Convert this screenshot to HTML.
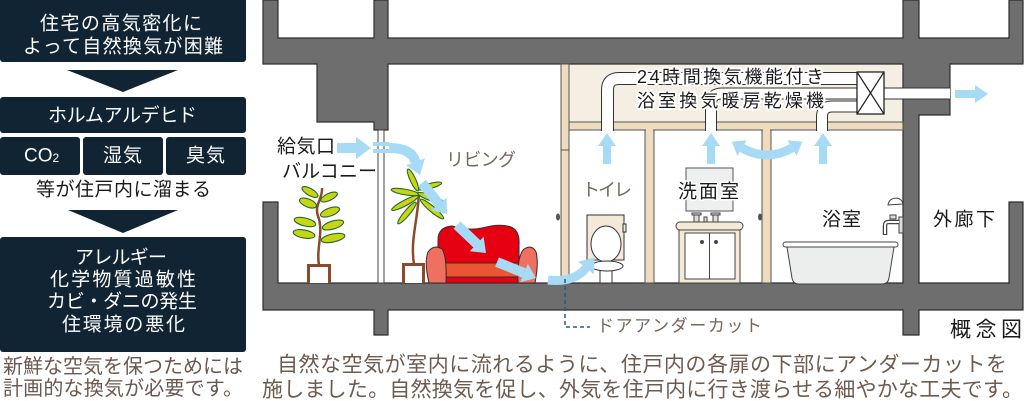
<!DOCTYPE html>
<html><head><meta charset="utf-8"><style>
html,body{margin:0;padding:0;background:#fff;}
svg{display:block;}
text{font-family:"Liberation Sans","Noto Sans CJK JP",sans-serif;}
</style></head><body>
<svg width="1024" height="401" viewBox="0 0 1024 401" xmlns="http://www.w3.org/2000/svg">
<!-- LEFT PANEL -->
<g fill="#102434">
<rect x="0" y="-4" width="246" height="66" rx="3"/>
<polygon points="67,70 178,70 123,92"/>
<rect x="0" y="97" width="246" height="36" rx="3"/>
<rect x="0" y="137" width="80" height="38" rx="3"/>
<rect x="83" y="137" width="80" height="38" rx="3"/>
<rect x="166" y="137" width="80" height="38" rx="3"/>
<polygon points="68,210 178,210 123,233"/>
<rect x="0" y="237" width="246" height="115" rx="3"/>
</g>
<g fill="#fff" font-size="19" dominant-baseline="central">
<text x="40" y="24" textLength="162" lengthAdjust="spacing">住宅の高気密化に</text>
<text x="23" y="47" textLength="200" lengthAdjust="spacing">よって自然換気が困難</text>
<text x="48" y="116" textLength="149" lengthAdjust="spacing">ホルムアルデヒド</text>
<text x="24" y="156">CO<tspan font-size="12" dy="2">2</tspan></text>
<text x="103" y="156" textLength="39" lengthAdjust="spacing">湿気</text>
<text x="186" y="156" textLength="39" lengthAdjust="spacing">臭気</text>
<text x="75" y="258" textLength="92" lengthAdjust="spacing">アレルギー</text>
<text x="50" y="280" textLength="146" lengthAdjust="spacing">化学物質過敏性</text>
<text x="47" y="302" textLength="150" lengthAdjust="spacing">カビ・ダニの発生</text>
<text x="62" y="325" textLength="123" lengthAdjust="spacing">住環境の悪化</text>
</g>
<text x="36" y="190" font-size="19" fill="#1a1a1a" dominant-baseline="central" textLength="175" lengthAdjust="spacing">等が住戸内に溜まる</text>
<g fill="#6a5950" font-size="20" dominant-baseline="central">
<text x="3" y="367" textLength="240" lengthAdjust="spacing">新鮮な空気を保つためには</text>
<text x="3" y="389" textLength="240" lengthAdjust="spacing">計画的な換気が必要です。</text>
</g>

<!-- CEILING SPACE -->
<rect x="569" y="64" width="334" height="58" fill="#f5eee2"/>

<!-- CONCRETE STRUCTURE -->
<polygon fill="#6e6e6e" stroke="#2e2e2e" stroke-width="1.2" stroke-linejoin="miter"
points="263,0 278,0 278,38 374,38 374,0 388,0 388,38 903,38 903,0 919,0 919,38 1009,38 1009,0 1023,0 1023,64 950,64 950,115 919,115 919,283 1009,283 1009,202 1023,202 1023,310 919,310 919,335 903,335 903,310 388,310 388,335 374,335 374,310 263,310 263,202 278,202 278,283 903,283 903,64 388,64 388,130 374,130 374,122 317,122 317,64 263,64"/>

<!-- window frame -->
<rect x="378" y="130" width="6" height="153" fill="#fff" stroke="#444" stroke-width="1"/>

<!-- beige partitions -->
<g fill="#efdbbe" stroke="#555" stroke-width="1">
<rect x="561" y="64" width="8" height="213"/>
<rect x="569" y="122" width="33" height="8"/>
<rect x="613" y="122" width="93" height="8"/>
<rect x="716" y="122" width="101" height="8"/>
<rect x="827" y="122" width="76" height="8"/>
<rect x="645" y="130" width="9" height="153"/>
<rect x="762" y="130" width="9" height="153"/>
</g>
<line x1="561" y1="150" x2="569" y2="150" stroke="#555" stroke-width="1"/>
<rect x="646" y="129" width="7" height="3" fill="#efdbbe"/>
<rect x="763" y="129" width="7" height="3" fill="#efdbbe"/>

<!-- DUCTS -->
<g fill="none" stroke-linecap="butt">
<path d="M607.5,131 V90 Q607.5,78.5 619,78.5 H857" stroke="#333" stroke-width="13"/>
<path d="M711,131 V104 Q711,93.5 722,93.5 H857" stroke="#333" stroke-width="12"/>
<path d="M822,131 V117 Q822,106.5 832,106.5 H857" stroke="#333" stroke-width="12"/>
<path d="M607.5,132 V90 Q607.5,78.5 619,78.5 H857" stroke="#fff" stroke-width="11"/>
<path d="M711,132 V104 Q711,93.5 722,93.5 H857" stroke="#fff" stroke-width="10"/>
<path d="M822,132 V117 Q822,106.5 832,106.5 H857" stroke="#fff" stroke-width="10"/>
</g>
<!-- exhaust duct -->
<rect x="884" y="88" width="66" height="11" fill="#fff"/>
<line x1="884" y1="88" x2="950" y2="88" stroke="#333" stroke-width="1"/>
<line x1="884" y1="99" x2="950" y2="99" stroke="#333" stroke-width="1"/>
<!-- fan box -->
<rect x="857" y="72" width="27" height="42" fill="#fff" stroke="#222" stroke-width="1.3"/>
<line x1="857" y1="72" x2="884" y2="114" stroke="#222" stroke-width="1.2"/>
<line x1="884" y1="72" x2="857" y2="114" stroke="#222" stroke-width="1.2"/>

<g font-size="18" fill="#1a1a1a" stroke="#fff" stroke-width="4" paint-order="stroke" stroke-linejoin="round" dominant-baseline="central">
<text x="637" y="77" textLength="187" lengthAdjust="spacing">24時間換気機能付き</text>
<text x="637" y="101" textLength="187" lengthAdjust="spacing">浴室換気暖房乾燥機</text>
</g>

<!-- PLANTS -->
<g>
<path d="M319,265 C316,248 324,232 318,216 C314,205 323,198 322,188" fill="none" stroke="#8b4a2b" stroke-width="2.5"/>
<g fill="#c9d415" stroke="#1f6a2e" stroke-width="1.1">
<ellipse cx="310" cy="192" rx="9" ry="3.5" transform="rotate(30 310 192)"/>
<ellipse cx="329" cy="197" rx="9" ry="3.5" transform="rotate(-25 329 197)"/>
<ellipse cx="308" cy="203" rx="9" ry="4" transform="rotate(22 308 203)"/>
<ellipse cx="330" cy="212" rx="10" ry="4" transform="rotate(-20 330 212)"/>
<ellipse cx="305" cy="222" rx="11" ry="4" transform="rotate(14 305 222)"/>
<ellipse cx="333" cy="225" rx="11" ry="4" transform="rotate(-17 333 225)"/>
<ellipse cx="304" cy="234" rx="11" ry="4" transform="rotate(10 304 234)"/>
<ellipse cx="333" cy="238" rx="12" ry="4" transform="rotate(-12 333 238)"/>
</g>
<rect x="307" y="264" width="24" height="19" fill="#8b4a2b"/>
<rect x="310" y="267" width="18" height="16" fill="#fff"/>

<path d="M414,264 C410,240 418,220 419,192" fill="none" stroke="#8b4a2b" stroke-width="2.5"/>
<g fill="#c9d415" stroke="#1f6a2e" stroke-width="1.1">
<ellipse cx="405" cy="192" rx="14" ry="2.8" transform="rotate(10 405 192)"/>
<ellipse cx="405" cy="203" rx="15" ry="2.8" transform="rotate(-28 405 203)"/>
<ellipse cx="407" cy="213" rx="14" ry="2.8" transform="rotate(-50 407 213)"/>
<ellipse cx="413" cy="180" rx="12" ry="2.8" transform="rotate(65 413 180)"/>
<ellipse cx="431" cy="198" rx="14" ry="2.8" transform="rotate(20 431 198)"/>
<ellipse cx="432" cy="209" rx="15" ry="2.8" transform="rotate(40 432 209)"/>
<ellipse cx="430" cy="186" rx="12" ry="2.6" transform="rotate(-15 430 186)"/>
</g>
<rect x="402" y="263" width="23" height="20" fill="#8b4a2b"/>
<rect x="405" y="266" width="17" height="17" fill="#fff"/>
</g>

<!-- SOFA -->
<g stroke="#3a2a2a" stroke-width="1">
<path d="M438,268 V240 Q438,227 452,226 Q468,231 482,228 Q500,223 511,227 Q520,231 519,245 V268 Z" fill="#e50012"/>
<rect x="444" y="263" width="76" height="14" fill="#ea5532"/>
<rect x="444" y="277" width="76" height="6" fill="#e50012"/>
<path d="M429,283 Q424,262 428,252 Q434,244 442,249 Q447,256 446,283 Z" fill="#ee7060"/>
<path d="M518,283 Q517,256 524,249 Q532,244 536,252 Q539,262 535,283 Z" fill="#ee7060"/>
</g>

<!-- door knobs -->
<ellipse cx="558" cy="217" rx="2" ry="3.5" fill="#555"/>
<ellipse cx="760" cy="217" rx="2" ry="3.5" fill="#555"/>

<!-- TOILET -->
<g stroke="#333" stroke-width="1">
<rect x="587" y="215" width="37" height="45" fill="#f3e9d6"/>
<rect x="623" y="224" width="3" height="8" fill="#f3e9d6"/>
<ellipse cx="606" cy="244" rx="15" ry="18" fill="#fff"/>
<rect x="600" y="270" width="12" height="13" fill="#fff"/>
<ellipse cx="607" cy="266" rx="16" ry="5" fill="#fff"/>
</g>

<!-- WASH ROOM -->
<rect x="686" y="168" width="47" height="43" fill="#eef0ef" stroke="#555" stroke-width="1"/>
<g stroke="#444" stroke-width="1" fill="#ddd">
<rect x="694" y="214" width="5" height="8"/>
<rect x="713" y="214" width="5" height="8"/>
<rect x="692" y="213" width="9" height="2"/>
<rect x="711" y="213" width="9" height="2"/>
<rect x="704" y="217" width="3" height="5"/>
</g>
<rect x="676" y="222" width="67" height="8" rx="4" fill="#f3ead8" stroke="#444" stroke-width="1"/>
<rect x="679" y="230" width="61" height="53" fill="#f3ead8" stroke="#444" stroke-width="1"/>
<rect x="685" y="233" width="50" height="46" fill="#fff" stroke="#444" stroke-width="1"/>
<line x1="709.5" y1="233" x2="709.5" y2="279" stroke="#444" stroke-width="1"/>
<circle cx="702" cy="242" r="2" fill="#445"/>
<circle cx="716" cy="242" r="2" fill="#445"/>

<!-- BATH -->
<path d="M787,247 L894,247 L889,278 Q888,284 882,284 L799,284 Q793,284 792,278 Z" fill="#eceeed" stroke="#444" stroke-width="1"/>
<rect x="783" y="242" width="115" height="5" rx="2.5" fill="#fff" stroke="#444" stroke-width="1"/>
<rect x="899" y="217" width="4" height="16" fill="#ddd" stroke="#444" stroke-width="1"/>
<path d="M899,222 H888 Q885,222 885,226 V235" fill="none" stroke="#444" stroke-width="4.5"/>
<path d="M899,222 H888 Q885,222 885,226 V234" fill="none" stroke="#fff" stroke-width="2"/>
<rect x="890" y="215" width="6" height="4" fill="#ddd" stroke="#444" stroke-width="1"/>
<path d="M888,205 Q889,198 897,198 Q902,199 903,204 Z" fill="#fff" stroke="#444" stroke-width="1"/>

<!-- BLUE ARROWS (on top) -->
<g fill="#a7daf4">
<polygon points="955,90 975,90 975,85 988,94 975,103 975,98 955,98"/>
<polygon points="603,164 603,146 598,146 607,133 616,146 611,146 611,164"/>
<polygon points="707,164 707,146 702,146 711,133 720,146 715,146 715,164"/>
<polygon points="819,164 819,146 814,146 823,133 832,146 827,146 827,164"/>
<polygon points="731.7,141.8 746.6,140.3 737.4,155.7"/>
<polygon points="802.3,141.8 787.4,140.3 796.6,155.7"/>
<polygon points="337,143 356,143 356,137 371,148 356,159 356,153 337,153"/>
<rect x="373" y="142" width="16" height="4"/>
<rect x="373" y="149" width="16" height="4"/>
<polygon points="420,175 406.1,165.3 424.9,158.3"/>
<polygon points="447,214 431,210.2 446.6,197.6"/>
<polygon points="486,253 469.7,251.2 483.6,236.8"/>
<polygon points="536,278 520.2,282.3 527.8,263.9"/>
<polygon points="594.6,257.5 593.8,274.3 578.2,261.8"/>
</g>
<g fill="none" stroke="#a7daf4">
<path d="M742,148 Q767,162 792,148" stroke-width="9"/>
<path d="M389,148 Q412,148 415.5,162" stroke-width="10"/>
<line x1="422" y1="183" x2="439" y2="204" stroke-width="10"/>
<line x1="457" y1="225" x2="477" y2="244" stroke-width="10"/>
<line x1="497" y1="262" x2="524" y2="273" stroke-width="10"/>
<path d="M548,280 Q574,283 586,268" stroke-width="9"/>
</g>

<!-- LABELS -->
<g font-size="19" fill="#1a1a1a" dominant-baseline="central">
<text x="277" y="147" textLength="58" lengthAdjust="spacing">給気口</text>
<text x="282" y="172" textLength="95" lengthAdjust="spacing">バルコニー</text>
<text x="822" y="220" textLength="39" lengthAdjust="spacing">浴室</text>
<text x="933" y="220" textLength="62" lengthAdjust="spacing">外廊下</text>
</g>
<text x="678" y="192" font-size="19" fill="#1a1a1a" stroke="#fff" stroke-width="3" paint-order="stroke" dominant-baseline="central" textLength="61" lengthAdjust="spacing">洗面室</text>
<text x="950" y="330" font-size="21" fill="#1a1a1a" dominant-baseline="central" textLength="72" lengthAdjust="spacing">概念図</text>
<g font-size="18" fill="#7a655a" dominant-baseline="central">
<text x="446" y="160" textLength="70" lengthAdjust="spacing">リビング</text>
<text x="582" y="190" textLength="50" lengthAdjust="spacing">トイレ</text>
<text x="597" y="326" font-size="17" textLength="165" lengthAdjust="spacing">ドアアンダーカット</text>
</g>
<path d="M565,279 V327 H590" fill="none" stroke="#2a5a8a" stroke-width="1.5" stroke-dasharray="4,3"/>

<!-- BOTTOM TEXT -->
<g font-size="21" fill="#6e5b50" dominant-baseline="central">
<text x="277" y="365" textLength="730" lengthAdjust="spacing">自然な空気が室内に流れるように、住戸内の各扉の下部にアンダーカットを</text>
<text x="262" y="390" textLength="761" lengthAdjust="spacing">施しました。自然換気を促し、外気を住戸内に行き渡らせる細やかな工夫です。</text>
</g>
</svg>
</body></html>
